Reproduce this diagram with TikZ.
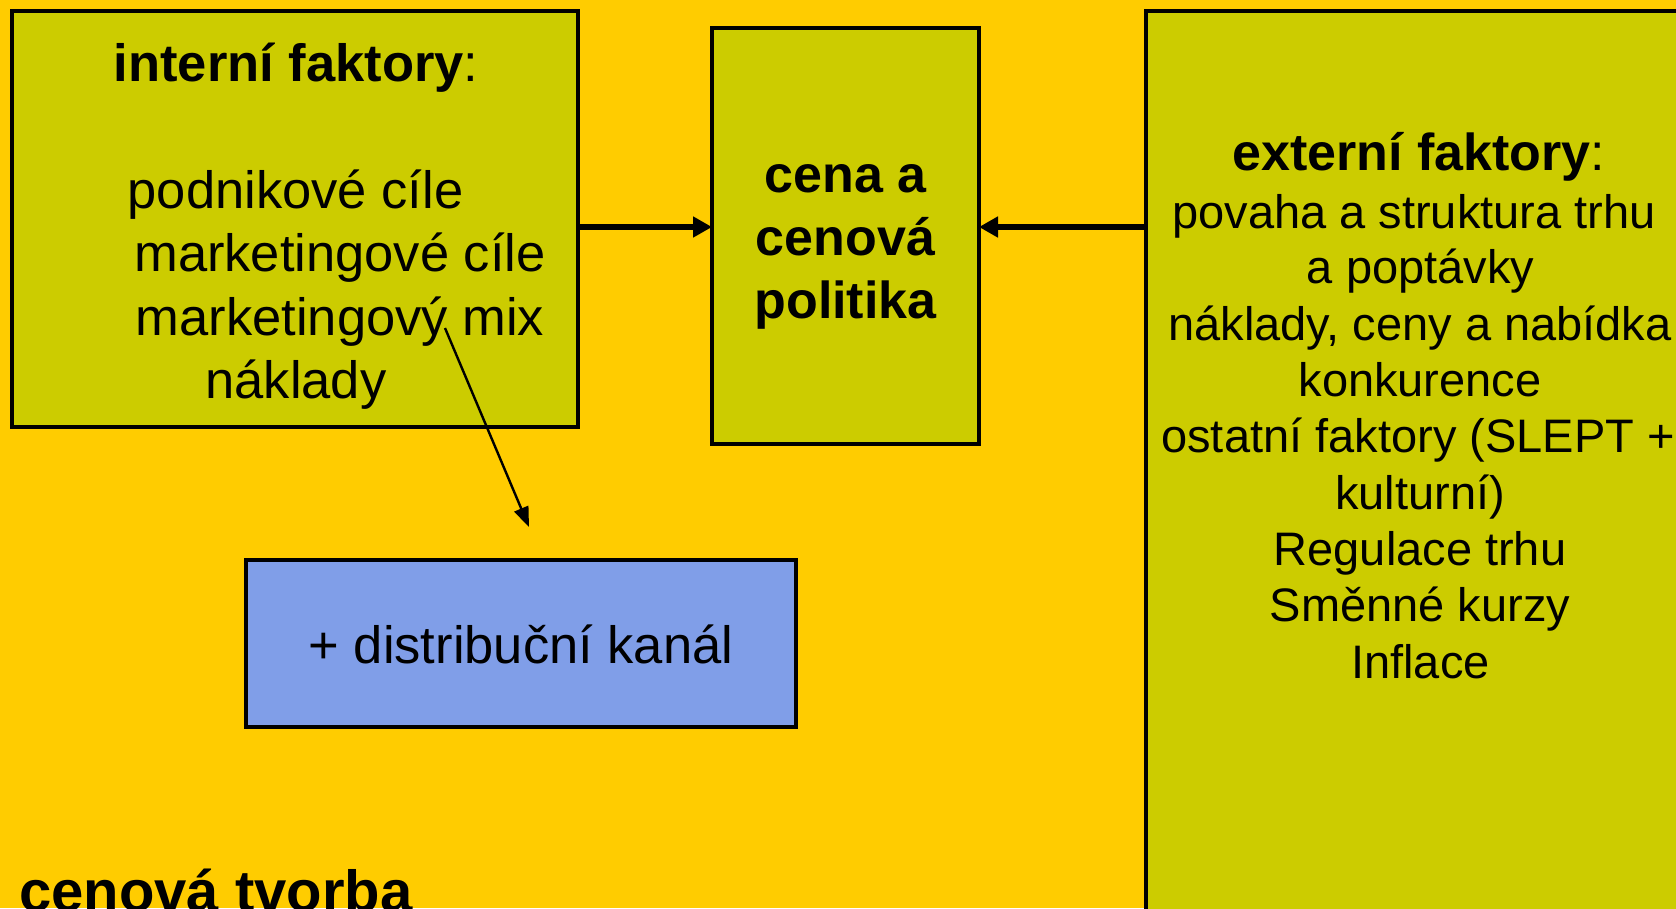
\documentclass[tikz,border=0pt]{standalone}
\usepackage{fontspec}
\setmainfont{Liberation Sans}
\usetikzlibrary{arrows.meta}
\definecolor{bgyellow}{RGB}{255,204,0}
\definecolor{boxolive}{RGB}{204,204,0}
\definecolor{boxblue}{RGB}{128,158,232}
\begin{document}
\begin{tikzpicture}[x=1pt,y=-1pt,
  panel/.style={draw=black,line width=3.2pt,fill=boxolive,inner sep=0pt,outer sep=0pt,rectangle},
  bluepanel/.style={panel,fill=boxblue},
  txtL/.style={anchor=base,inner sep=0pt,font=\fontsize{52.5}{63}\selectfont},
  txtC/.style={anchor=base,inner sep=0pt,font=\fontsize{52}{63}\bfseries\selectfont},
  txtRt/.style={anchor=base,inner sep=0pt,font=\fontsize{52}{56}\selectfont},
  txtR/.style={anchor=base,inner sep=0pt,font=\fontsize{47}{56}\selectfont},
  bigarrow/.style={line width=5.6pt,-{Triangle[length=19pt,width=20pt]}},
  thinarrow/.style={line width=2.4pt,-{Triangle[length=20pt,width=15pt]}}]
\useasboundingbox (0,0) rectangle (1676,908);
\clip (0,0) rectangle (1676,908);
\fill[bgyellow] (0,0) rectangle (1676,908);

% boxes
\node[panel,minimum width=566pt,minimum height=416pt] (L) at (295,219) {};
\node[panel,minimum width=267pt,minimum height=416pt] (C) at (845.5,236) {};
\node[panel,minimum width=580pt,minimum height=930pt] (R) at (1436,476) {};
\node[bluepanel,minimum width=550pt,minimum height=167pt] (B) at (521,643.5) {};

% left text
\node[txtL] (l0) at (296,81) {\textbf{interní faktory}:};
\node[txtL] (l1) at (295.5,208) {podnikové cíle};
\node[txtL] (l2) at (340,271) {marketingové cíle};
\node[txtL] (l3) at (340,335) {marketingový mix};
\node[txtL] (l4) at (296,398) {náklady};

% centre text
\node[txtC] (c1) at (845.5,192) {cena a};
\node[txtC] (c2) at (845.5,255) {cenová};
\node[txtC] (c3) at (845.5,318) {politika};

% right text
\node[txtRt] (r0) at (1419,170) {\textbf{externí faktory}:};
\node[txtR] (r1) at (1414,228) {povaha a struktura trhu};
\node[txtR] (r2) at (1420.5,283) {a poptávky};
\node[txtR] (r3) at (1420,340) {náklady, ceny a nabídka};
\node[txtR] (r4) at (1420,396) {konkurence};
\node[txtR] (r5) at (1418,452) {ostatní faktory (SLEPT +};
\node[txtR] (r6) at (1420,509) {kulturní)};
\node[txtR] (r7) at (1420,565) {Regulace trhu};
\node[txtR] (r8) at (1420,621) {Směnné kurzy};
\node[txtR] (r9) at (1420.5,678) {Inflace};

% blue text
\node[txtL] (b1) at (521,663) {+ distribuční kanál};

% bottom title
\node[anchor=base west,inner sep=0pt,font=\fontsize{58}{66}\bfseries\selectfont] (title) at (19,911) {cenová tvorba};

% connectors
\coordinate (ya) at (0,227);
\draw[bigarrow] (L.east |- ya) -- (C.west |- ya);
\draw[bigarrow] (R.west |- ya) -- (C.east |- ya);
\coordinate (ts) at (445,328);
\coordinate (te) at (529,527);
\draw[thinarrow] (ts) -- (te);
\end{tikzpicture}
\end{document}
